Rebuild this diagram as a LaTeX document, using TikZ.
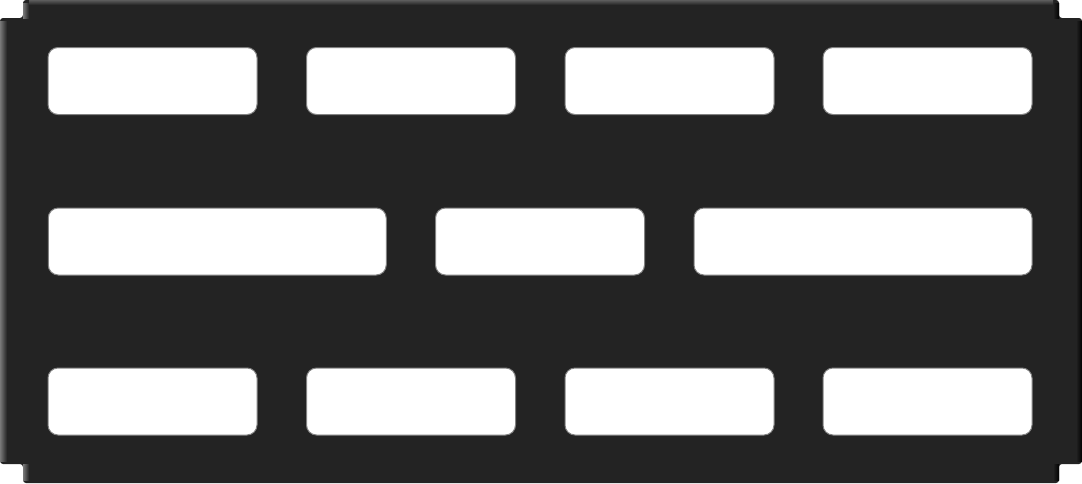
\documentclass[tikz,border=0pt]{standalone}
\usepackage{tikz}
\definecolor{PlateBlack}{RGB}{35, 35, 35}
\definecolor{EdgeGray}{RGB}{120, 120, 120}
\definecolor{SlotEdge}{RGB}{130, 130, 130}
\tikzstyle{slot} = [rectangle, rounded corners=10pt, minimum height=67pt, fill=white, draw=SlotEdge, line width=1pt, inner sep=0pt]
\tikzstyle{shortslot} = [slot, minimum width=209pt]
\tikzstyle{longslot} = [slot, minimum width=338pt]

\begin{document}
\begin{tikzpicture}[x=1pt, y=-1pt]

\useasboundingbox (0,0) rectangle (1082,483);

% Plate
\fill [PlateBlack, rounded corners=3pt] (23,0) -- (1059,0) -- (1059,18) -- (1082,18) -- (1082,464) -- (1059,464) -- (1059,483) -- (23,483) -- (23,464) -- (0,464) -- (0,18) -- (23,18) -- cycle;
\shade [left color=EdgeGray, right color=PlateBlack] (0,21) rectangle (7,461);
\shade [left color=EdgeGray, right color=PlateBlack] (23,3) rectangle (29,18);
\shade [left color=EdgeGray, right color=PlateBlack] (23,464) rectangle (29,480);
\shade [left color=PlateBlack, right color=black] (1076,21) rectangle (1082,461);
\shade [left color=PlateBlack, right color=black] (1053,3) rectangle (1059,18);
\shade [left color=PlateBlack, right color=black] (1053,464) rectangle (1059,480);
\shade [top color=EdgeGray!60!PlateBlack, bottom color=PlateBlack] (29,0.5) rectangle (1053,5);

% Row 1
\node (top1) [shortslot] at (152.5,81) {};
\node (top2) [shortslot] at (411,81) {};
\node (top3) [shortslot] at (669.5,81) {};
\node (top4) [shortslot] at (927.5,81) {};

% Row 2
\node (mid1) [longslot] at (217.25,241.5) {};
\node (mid2) [shortslot] at (540,241.5) {};
\node (mid3) [longslot] at (863,241.5) {};

% Row 3
\node (bot1) [shortslot] at (152.5,401.5) {};
\node (bot2) [shortslot] at (411,401.5) {};
\node (bot3) [shortslot] at (669.5,401.5) {};
\node (bot4) [shortslot] at (927.5,401.5) {};

\end{tikzpicture}
\end{document}
